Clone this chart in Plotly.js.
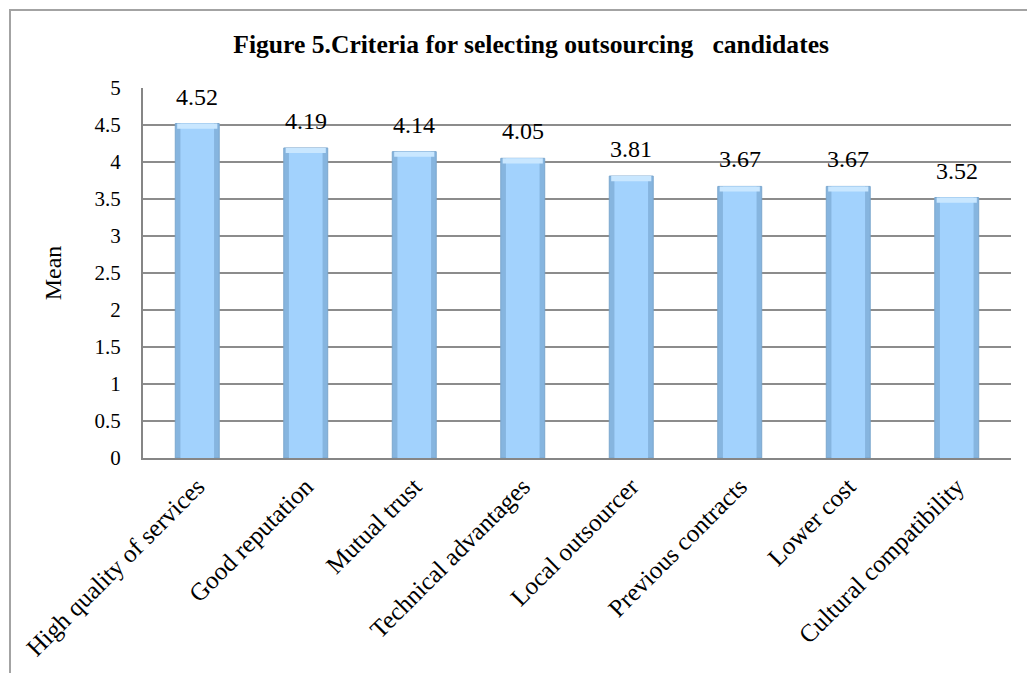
<!DOCTYPE html>
<html>
<head>
<meta charset="utf-8">
<script src="https://cdn.plot.ly/plotly-3.0.1.min.js"></script>
<style>
  html, body { margin: 0; padding: 0; background: #ffffff; overflow: hidden; }
  #frame {
    position: absolute; left: 9px; top: 9px;
    width: 1030px; height: 680px;
    border: 2px solid #a3a3a3;
    background: #ffffff;
  }
  #chart { width: 1030px; height: 680px; }
</style>
</head>
<body>
<div id="frame"><div id="chart"></div></div>
<script>
// Survey means for each outsourcing-candidate criterion
const criteria = [
  "High quality of services",
  "Good reputation",
  "Mutual trust",
  "Technical advantages",
  "Local outsourcer",
  "Previous contracts",
  "Lower cost",
  "Cultural compatibility"
];
const means = [4.52, 4.19, 4.14, 4.05, 3.81, 3.67, 3.67, 3.52];
const yTicks = [0, 0.5, 1, 1.5, 2, 2.5, 3, 3.5, 4, 4.5, 5];

const serif = "Liberation Serif, Times New Roman, serif";
const capDepth = 0.07; // height of the pale bevel at the top of each bar

// Outer bar body gives the darker bevelled edge
const edge = {
  type: "bar",
  x: criteria,
  y: means,
  width: 0.405,
  marker: { color: "#86b5df", line: { color: "#7ba7ce", width: 1 } },
  hoverinfo: "x+y",
  showlegend: false
};

// Lighter inner face of each bar
const face = {
  type: "bar",
  x: criteria,
  y: means,
  width: 0.31,
  marker: { color: "#a2d2fd", line: { width: 0 } },
  hoverinfo: "skip",
  showlegend: false
};

// Pale highlight along the top of each bar
const cap = {
  type: "bar",
  x: criteria,
  y: means.map(() => capDepth),
  base: means.map(v => v - capDepth),
  width: 0.37,
  marker: { color: "#c9e7ff", line: { width: 0 } },
  hoverinfo: "skip",
  showlegend: false
};

// Value labels above the bars
const labels = criteria.map((c, i) => ({
  x: c,
  y: means[i],
  xref: "x",
  yref: "y",
  text: means[i].toFixed(2),
  showarrow: false,
  yanchor: "bottom",
  yshift: 12,
  font: { family: serif, size: 24, color: "#000000" }
}));

const layout = {
  width: 1030,
  height: 680,
  margin: { l: 132, r: 30, t: 77, b: 233 },
  paper_bgcolor: "#ffffff",
  plot_bgcolor: "#ffffff",
  barmode: "overlay",
  font: { family: serif, color: "#000000" },
  annotations: labels,
  title: {
    text: "<b>Figure 5.Criteria for selecting outsourcing   candidates</b>",
    font: { family: serif, size: 25.6, color: "#000000" },
    x: 0.505,
    xanchor: "center",
    y: 0.952,
    yanchor: "middle"
  },
  xaxis: {
    type: "category",
    tickangle: -45,
    tickfont: { family: serif, size: 25, color: "#000000" },
    ticks: "outside",
    ticklen: 2,
    tickcolor: "rgba(0,0,0,0)",
    showline: true,
    linecolor: "#868686",
    linewidth: 2,
    showgrid: false,
    zeroline: false
  },
  yaxis: {
    range: [0, 5],
    tickvals: yTicks,
    ticktext: yTicks.map(v => String(v)),
    tickfont: { family: serif, size: 21, color: "#000000" },
    ticks: "outside",
    ticklen: 16,
    tickcolor: "rgba(0,0,0,0)",
    showline: true,
    linecolor: "#868686",
    linewidth: 2,
    showgrid: true,
    gridcolor: "#8c8c8c",
    gridwidth: 1.5,
    zeroline: false,
    title: {
      text: "Mean",
      font: { family: serif, size: 24, color: "#000000" },
      standoff: 26
    }
  }
};

Plotly.newPlot("chart", [edge, face, cap], layout, { displayModeBar: false, staticPlot: true });
</script>
</body>
</html>
